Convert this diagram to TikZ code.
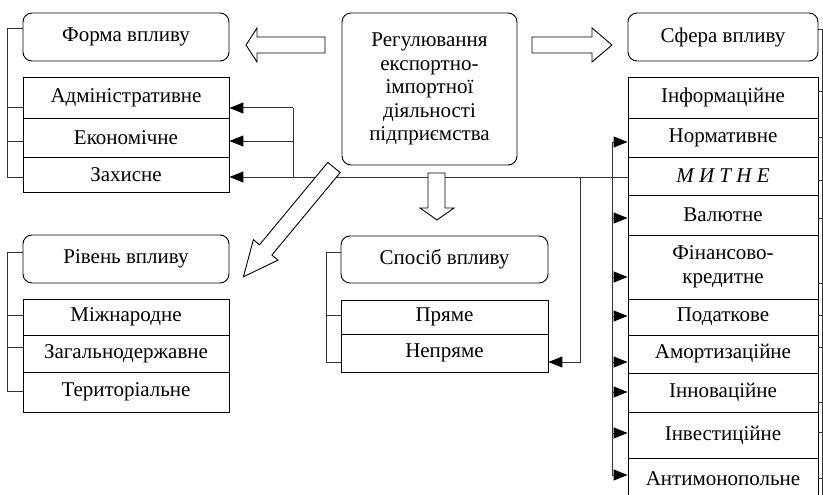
\documentclass[tikz,border=0pt]{standalone}
\usepackage{fontspec}
\setmainfont{Liberation Serif}
\usetikzlibrary{arrows.meta,calc}
\begin{document}
\begin{tikzpicture}[x=1pt,y=-1pt,
  every node/.style={font=\fontsize{21}{23.5}\selectfont, inner sep=0pt, align=center},
  box/.style={draw=black, line width=0.9pt, rectangle},
  rbox/.style={box, rounded corners=9pt},
  conn/.style={draw=black!80, line width=1pt},
  arr/.style={conn, -{Triangle[length=14pt,width=11pt,black]}},
  hollow/.style={draw=black, line width=0.9pt, fill=white, line join=miter}]
\useasboundingbox (0,0) rectangle (823,495);
\clip (0,0) rectangle (823,495);

% centre
\node[rbox, minimum width=175pt, minimum height=152pt] (c) at (429.5,89)
  {Регулювання\\експортно-\\імпортної\\діяльності\\підприємства};

% left column: form
\node[rbox, minimum width=206pt, minimum height=48pt] (forma) at (126,37) {Форма впливу};
\node[box, minimum width=206pt, minimum height=41pt] (adm) at (126,97.5) {Адміністративне};
\node[box, minimum width=206pt, minimum height=39pt] (eko) at (126,137.5) {Економічне};
\node[box, minimum width=206pt, minimum height=35pt] (zakh) at (126,174.5) {Захисне};

% level
\node[rbox, minimum width=206pt, minimum height=48pt] (riv) at (126,259) {Рівень впливу};
\node[box, minimum width=206pt, minimum height=36pt] (mizh) at (126,317) {Міжнародне};
\node[box, minimum width=206pt, minimum height=37pt] (zag) at (126,353.5) {Загальнодержавне};
\node[box, minimum width=206pt, minimum height=40pt] (ter) at (126,392) {Територіальне};

% method
\node[rbox, minimum width=207pt, minimum height=47pt] (spos) at (444.5,259.5) {Спосіб впливу};
\node[box, minimum width=207pt, minimum height=34pt] (pr) at (444.5,317) {Пряме};
\node[box, minimum width=207pt, minimum height=38pt] (nepr) at (444.5,353) {Непряме};

% sphere
\node[rbox, minimum width=190pt, minimum height=48pt] (sf) at (723,37) {Сфера впливу};
\node[box, minimum width=190pt, minimum height=41pt] (inf) at (723,97.5) {Інформаційне};
\node[box, minimum width=190pt, minimum height=39pt] (norm) at (723,137.5) {Нормативне};
\node[box, minimum width=190pt, minimum height=38pt] (myt) at (723,176) {\itshape М И Т Н Е};
\node[box, minimum width=190pt, minimum height=40pt] (val) at (723,215) {Валютне};
\node[box, minimum width=190pt, minimum height=64pt] (fin) at (723,267) {Фінансово-\\кредитне};
\node[box, minimum width=190pt, minimum height=36pt] (pod) at (723,317) {Податкове};
\node[box, minimum width=190pt, minimum height=38pt] (amort) at (723,354) {Амортизаційне};
\node[box, minimum width=190pt, minimum height=39pt] (innov) at (723,392.5) {Інноваційне};
\node[box, minimum width=190pt, minimum height=46pt] (inv) at (723,435) {Інвестиційне};
\node[box, minimum width=190pt, minimum height=42pt] (anti) at (723,479) {Антимонопольне};

% left brackets
\draw[conn] (forma.west |- 0,29) -- (7,29) -- (7,177) -- (zakh.west |- 0,177);
\draw[conn] (7,108) -- (adm.west |- 0,108);
\draw[conn] (7,141) -- (eko.west |- 0,141);
\draw[conn] (riv.west |- 0,252) -- (7,252) -- (7,391) -- (ter.west |- 0,391);
\draw[conn] (7,315) -- (mizh.west |- 0,315);
\draw[conn] (7,347) -- (zag.west |- 0,347);
\draw[conn] (spos.west |- 0,252) -- (326,252) -- (326,362) -- (nepr.west |- 0,362);
\draw[conn] (326,315) -- (pr.west |- 0,315);

% right ticks
\foreach \n/\yy in {sf/30,inf/92,norm/138,myt/180,val/218,fin/283,pod/315,amort/347,innov/402,inv/432,anti/478}
  \draw[conn] (\n.east |- 0,\yy) -- (823,\yy);
\draw[conn] (822.5,30) -- (822.5,495);

% main connectors
\coordinate (j1) at (293,177);
\coordinate (j2) at (580,177);
\draw[conn] (j1) -- (myt.west |- j1);
\draw[conn] (293,108) -- (j1);
\draw[arr] (293,108) -- (adm.east |- 0,108);
\draw[arr] (293,141) -- (eko.east |- 0,141);
\draw[arr] (j1) -- (zakh.east |- j1);
\draw[arr] (j2) -- (580,362) -- (nepr.east |- 0,362);
\draw[conn] (612,142) -- (612,475);
\foreach \n/\yy in {norm/142,val/218,fin/277,pod/316,amort/362,innov/392,inv/433,anti/475}
  \draw[arr] (612,\yy) -- (\n.west |- 0,\yy);

% hollow arrows
\draw[hollow] (325,37) -- (257,37) -- (257,28) -- (246,45) -- (257,62) -- (257,53) -- (325,53) -- cycle;
\draw[hollow] (532,37) -- (592,37) -- (592,28) -- (612,45) -- (592,62) -- (592,53) -- (532,53) -- cycle;
\draw[hollow] (428,173) -- (428,208) -- (420,208) -- (437,220) -- (454,208) -- (445,208) -- (445,173) -- cycle;
\draw[hollow] (327.8,162.4) -- (259.5,244.8) -- (253.4,239.7) -- (243.4,276.8) -- (278.0,260.1) -- (271.9,255.0) -- (340.2,172.6) -- cycle;
\end{tikzpicture}
\end{document}
